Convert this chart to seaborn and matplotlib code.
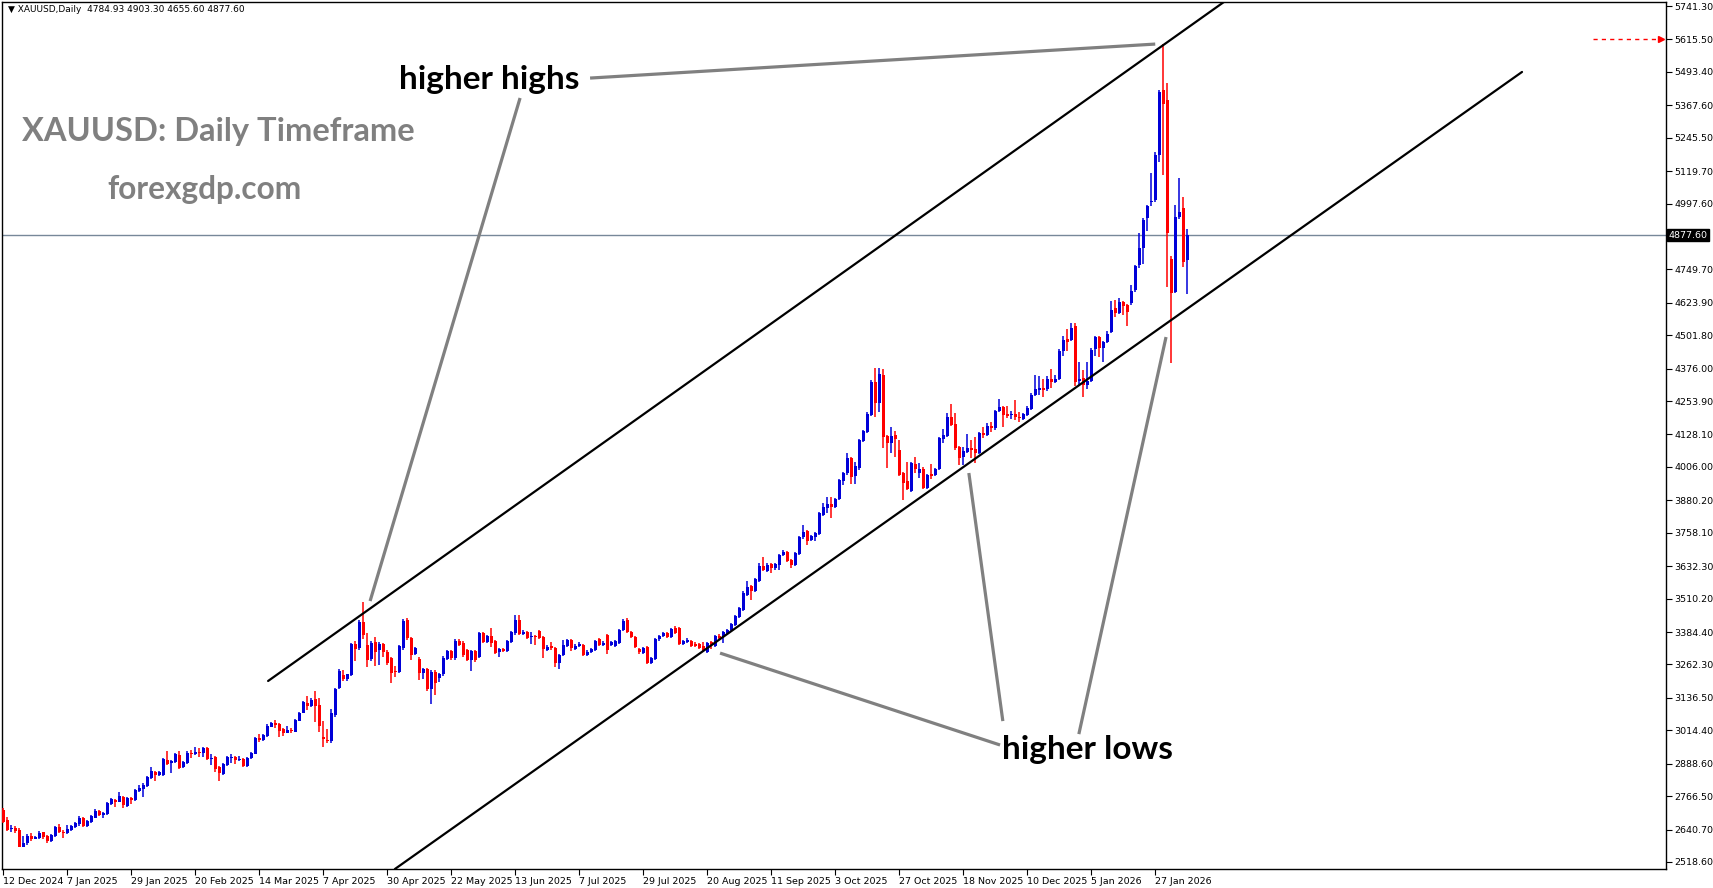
import numpy as np
import pandas as pd
import matplotlib
matplotlib.use("Agg")
import matplotlib.pyplot as plt
import matplotlib.transforms as mtransforms
import seaborn as sns

# XAUUSD daily candles, 12 Dec 2024 -> 6 Feb 2026
opens = [
    2714, 2677, 2644, 2648, 2639, 2576, 2589, 2616, 2606, 2610,
    2630, 2616, 2599, 2618, 2649, 2633, 2628, 2639, 2651, 2660,
    2685, 2655, 2670, 2685, 2710, 2695, 2699, 2737, 2752, 2746,
    2764, 2729, 2761, 2752, 2786, 2793, 2806, 2833, 2857, 2846,
    2846, 2902, 2890, 2895, 2921, 2875, 2890, 2930, 2925, 2933,
    2928, 2948, 2906, 2912, 2875, 2850, 2884, 2909, 2915, 2902,
    2906, 2881, 2909, 2925, 2984, 2978, 2994, 3028, 3041, 3038,
    3019, 3005, 3015, 3009, 3051, 3081, 3118, 3106, 3132, 3110,
    2990, 2978, 2975, 3072, 3172, 3222, 3206, 3222, 3339, 3323,
    3423, 3335, 3283, 3347, 3317, 3339, 3310, 3285, 3238, 3235,
    3323, 3430, 3361, 3302, 3282, 3229, 3244, 3169, 3235, 3210,
    3225, 3283, 3314, 3285, 3352, 3344, 3317, 3279, 3314, 3289,
    3379, 3346, 3369, 3351, 3310, 3320, 3314, 3348, 3379, 3430,
    3377, 3386, 3364, 3367, 3389, 3364, 3317, 3332, 3323, 3269,
    3298, 3333, 3354, 3319, 3332, 3335, 3298, 3308, 3317, 3357,
    3335, 3373, 3335, 3333, 3344, 3392, 3430, 3386, 3367, 3319,
    3307, 3329, 3269, 3283, 3357, 3369, 3379, 3367, 3398, 3398,
    3339, 3348, 3351, 3339, 3338, 3333, 3310, 3345, 3333, 3371,
    3367, 3382, 3392, 3411, 3442, 3467, 3524, 3558, 3539, 3578,
    3633, 3615, 3640, 3624, 3637, 3674, 3687, 3655, 3637, 3678,
    3741, 3765, 3731, 3743, 3753, 3825, 3852, 3866, 3854, 3884,
    3954, 3982, 4038, 3972, 4001, 4105, 4139, 4201, 4327, 4245,
    4352, 4122, 4095, 4126, 4070, 3982, 3953, 3915, 4016, 3984,
    3998, 3928, 3979, 3975, 3998, 4111, 4124, 4195, 4167, 4080,
    4045, 4063, 4078, 4073, 4060, 4135, 4126, 4161, 4151, 4216,
    4233, 4205, 4201, 4205, 4195, 4186, 4201, 4224, 4277, 4296,
    4304, 4298, 4337, 4327, 4337, 4442, 4486, 4484, 4537, 4331,
    4339, 4315, 4330, 4449, 4494, 4452, 4477, 4515, 4605, 4587,
    4628, 4616, 4622, 4672, 4766, 4829, 4942, 5004, 5011, 5180,
    5425, 5387, 4787, 4666, 4946, 4979, 4785,
]
highs = [
    2721, 2689, 2658, 2654, 2645, 2616, 2624, 2626, 2616, 2635,
    2633, 2620, 2624, 2654, 2661, 2639, 2658, 2658, 2670, 2692,
    2689, 2677, 2695, 2718, 2714, 2708, 2743, 2761, 2756, 2782,
    2768, 2762, 2764, 2793, 2808, 2815, 2843, 2875, 2861, 2861,
    2909, 2936, 2902, 2930, 2938, 2899, 2936, 2940, 2953, 2946,
    2950, 2950, 2924, 2917, 2880, 2892, 2919, 2925, 2919, 2917,
    2911, 2915, 2934, 2988, 3000, 3000, 3037, 3047, 3053, 3043,
    3023, 3031, 3022, 3057, 3084, 3126, 3143, 3135, 3162, 3135,
    3049, 3019, 3093, 3175, 3245, 3241, 3228, 3342, 3350, 3430,
    3497, 3379, 3350, 3364, 3348, 3342, 3317, 3290, 3256, 3336,
    3432, 3437, 3365, 3328, 3290, 3250, 3248, 3240, 3240, 3230,
    3293, 3318, 3318, 3357, 3357, 3350, 3320, 3318, 3318, 3383,
    3386, 3373, 3398, 3355, 3325, 3325, 3355, 3388, 3447, 3450,
    3392, 3390, 3386, 3372, 3393, 3368, 3334, 3346, 3327, 3302,
    3354, 3358, 3358, 3338, 3347, 3340, 3315, 3325, 3356, 3362,
    3349, 3378, 3352, 3353, 3396, 3432, 3437, 3390, 3371, 3325,
    3327, 3333, 3290, 3362, 3374, 3384, 3384, 3398, 3408, 3402,
    3356, 3360, 3356, 3345, 3342, 3348, 3348, 3350, 3374, 3376,
    3390, 3396, 3419, 3450, 3478, 3537, 3576, 3562, 3588, 3643,
    3668, 3643, 3645, 3645, 3678, 3693, 3691, 3659, 3685, 3747,
    3787, 3769, 3750, 3762, 3838, 3871, 3891, 3894, 3888, 3961,
    3988, 4057, 4042, 4026, 4111, 4146, 4214, 4333, 4380, 4377,
    4375, 4126, 4157, 4141, 4107, 3986, 4026, 4023, 4042, 4019,
    4007, 3979, 4017, 4002, 4118, 4149, 4210, 4243, 4210, 4084,
    4082, 4130, 4107, 4120, 4136, 4157, 4170, 4176, 4220, 4262,
    4237, 4235, 4216, 4258, 4214, 4209, 4235, 4285, 4352, 4348,
    4336, 4350, 4373, 4352, 4449, 4499, 4524, 4547, 4549, 4402,
    4371, 4402, 4452, 4498, 4498, 4481, 4518, 4632, 4634, 4643,
    4632, 4620, 4691, 4766, 4888, 4942, 4992, 5111, 5193, 5425,
    5598, 5453, 4800, 4992, 5095, 5023, 4903,
]
lows = [
    2664, 2636, 2633, 2626, 2576, 2576, 2582, 2599, 2604, 2605,
    2604, 2589, 2595, 2614, 2629, 2608, 2624, 2636, 2648, 2655,
    2651, 2651, 2666, 2683, 2693, 2683, 2697, 2734, 2727, 2743,
    2723, 2727, 2737, 2749, 2783, 2764, 2802, 2830, 2825, 2842,
    2843, 2884, 2855, 2892, 2867, 2871, 2886, 2909, 2921, 2912,
    2912, 2902, 2884, 2858, 2825, 2846, 2880, 2890, 2886, 2899,
    2877, 2875, 2906, 2924, 2971, 2975, 2990, 3025, 3022, 2990,
    2993, 3003, 3005, 3007, 3048, 3078, 3091, 3103, 3047, 3009,
    2950, 2968, 2965, 3065, 3168, 3200, 3200, 3218, 3276, 3318,
    3358, 3254, 3275, 3256, 3260, 3292, 3260, 3194, 3216, 3230,
    3318, 3355, 3279, 3296, 3204, 3207, 3163, 3113, 3147, 3197,
    3220, 3280, 3280, 3280, 3330, 3292, 3275, 3239, 3273, 3285,
    3343, 3342, 3329, 3302, 3289, 3308, 3310, 3344, 3375, 3372,
    3372, 3358, 3339, 3335, 3358, 3288, 3313, 3317, 3251, 3244,
    3294, 3329, 3314, 3315, 3328, 3294, 3294, 3304, 3313, 3331,
    3331, 3303, 3331, 3329, 3340, 3388, 3382, 3360, 3325, 3300,
    3302, 3263, 3265, 3279, 3352, 3364, 3362, 3362, 3378, 3334,
    3335, 3344, 3328, 3328, 3320, 3313, 3306, 3319, 3328, 3358,
    3344, 3378, 3388, 3407, 3438, 3462, 3519, 3505, 3534, 3573,
    3613, 3610, 3608, 3618, 3618, 3670, 3648, 3624, 3632, 3673,
    3736, 3712, 3726, 3728, 3748, 3820, 3834, 3815, 3850, 3880,
    3938, 3977, 3940, 3940, 3996, 4100, 4134, 4196, 4195, 4214,
    4078, 4001, 4060, 4042, 3970, 3881, 3918, 3910, 3982, 3963,
    3923, 3923, 3959, 3970, 3993, 4095, 4119, 4160, 4071, 4013,
    4013, 4058, 4038, 4019, 4055, 4114, 4121, 4136, 4146, 4211,
    4157, 4189, 4186, 4183, 4176, 4181, 4196, 4219, 4272, 4277,
    4268, 4293, 4304, 4322, 4332, 4425, 4444, 4479, 4310, 4314,
    4270, 4300, 4325, 4424, 4421, 4402, 4472, 4510, 4569, 4582,
    4578, 4536, 4617, 4666, 4754, 4769, 4895, 4988, 5005, 5155,
    5105, 4685, 4398, 4660, 4940, 4757, 4656,
]
closes = [
    2670, 2639, 2646, 2636, 2576, 2591, 2616, 2606, 2614, 2629,
    2614, 2599, 2619, 2651, 2631, 2628, 2643, 2654, 2666, 2683,
    2655, 2673, 2692, 2710, 2695, 2704, 2739, 2754, 2746, 2768,
    2733, 2758, 2752, 2790, 2796, 2808, 2840, 2861, 2846, 2857,
    2905, 2887, 2900, 2925, 2871, 2895, 2928, 2925, 2933, 2930,
    2948, 2906, 2909, 2868, 2852, 2889, 2915, 2915, 2902, 2906,
    2881, 2911, 2930, 2984, 2978, 2997, 3032, 3043, 3033, 3013,
    3005, 3015, 3012, 3053, 3081, 3122, 3107, 3128, 3106, 3030,
    2980, 2974, 3081, 3170, 3238, 3206, 3225, 3339, 3320, 3423,
    3373, 3279, 3344, 3310, 3339, 3310, 3266, 3231, 3235, 3332,
    3427, 3361, 3298, 3323, 3229, 3244, 3169, 3235, 3194, 3225,
    3288, 3314, 3285, 3352, 3336, 3298, 3279, 3314, 3279, 3379,
    3348, 3369, 3342, 3307, 3320, 3314, 3351, 3383, 3430, 3377,
    3386, 3363, 3367, 3364, 3363, 3319, 3329, 3323, 3269, 3298,
    3335, 3354, 3323, 3333, 3339, 3298, 3310, 3320, 3352, 3335,
    3344, 3317, 3348, 3349, 3392, 3427, 3386, 3364, 3329, 3310,
    3323, 3269, 3285, 3357, 3369, 3379, 3367, 3394, 3382, 3338,
    3351, 3354, 3332, 3332, 3325, 3317, 3344, 3335, 3369, 3363,
    3386, 3392, 3415, 3446, 3474, 3532, 3553, 3540, 3584, 3633,
    3618, 3637, 3624, 3640, 3674, 3684, 3652, 3637, 3681, 3743,
    3760, 3728, 3746, 3758, 3834, 3856, 3865, 3854, 3884, 3957,
    3984, 4041, 3969, 4009, 4107, 4142, 4205, 4327, 4248, 4356,
    4120, 4095, 4122, 4110, 3975, 3947, 3923, 4019, 3997, 3997,
    3928, 3975, 3972, 3998, 4114, 4126, 4195, 4164, 4076, 4038,
    4066, 4078, 4070, 4060, 4132, 4126, 4160, 4154, 4216, 4230,
    4201, 4198, 4205, 4195, 4189, 4205, 4226, 4277, 4299, 4304,
    4296, 4337, 4327, 4337, 4444, 4484, 4478, 4528, 4327, 4336,
    4314, 4330, 4446, 4494, 4452, 4477, 4506, 4597, 4584, 4628,
    4613, 4590, 4668, 4764, 4829, 4936, 4988, 5006, 5180, 5419,
    5372, 4885, 4659, 4946, 4965, 4776, 4878,
]

date_labels = ["12 Dec 2024", "7 Jan 2025", "29 Jan 2025", "20 Feb 2025", "14 Mar 2025",
               "7 Apr 2025", "30 Apr 2025", "22 May 2025", "13 Jun 2025", "7 Jul 2025",
               "29 Jul 2025", "20 Aug 2025", "11 Sep 2025", "3 Oct 2025", "27 Oct 2025",
               "18 Nov 2025", "10 Dec 2025", "5 Jan 2026", "27 Jan 2026"]
BARS_PER_LABEL = 16
price_ticks = [5741.30, 5615.50, 5493.40, 5367.60, 5245.50, 5119.70, 4997.60, 4749.70,
               4623.90, 4501.80, 4376.00, 4253.90, 4128.10, 4006.00, 3880.20, 3758.10,
               3632.30, 3510.20, 3384.40, 3262.30, 3136.50, 3014.40, 2888.60, 2766.50,
               2640.70, 2518.60]
last_price = 4877.60
alert_price = 5615.50
header = "\u25BC XAUUSD,Daily  4784.93 4903.30 4655.60 4877.60"

# trend lines drawn on the chart: (bar, price) pairs
channel_upper = [(66.2, 3200), (305.5, 5760)]
channel_lower = [(97.9, 2492), (379.7, 5493)]
hh_pointers = [[(146.7, 5470), (288.0, 5598)], [(129.2, 5395), (91.7, 3501)]]
hl_pointers = [[(249.2, 2959), (179.2, 3305)], [(249.9, 3049), (241.4, 3983)],
               [(268.9, 3000), (290.7, 4495)]]

df = pd.DataFrame({"open": opens, "high": highs, "low": lows, "close": closes})
df["bar"] = np.arange(len(df))
df["up"] = df["close"] >= df["open"]

sns.set_style("white")
plt.rcParams["font.family"] = ["DejaVu Sans"]

W, H = 1713, 888
fig = plt.figure(figsize=(W / 100, H / 100), dpi=100)
fig.patch.set_facecolor("white")
ax = fig.add_axes([2 / W, 1 - 869 / H, 1664 / W, 867 / H])

BLUE = "#0000D8"
RED = "#FF0000"
colors = np.where(df["up"], BLUE, RED)

body_lo = np.minimum(df["open"], df["close"])
body_hi = np.maximum(df["open"], df["close"])
ax.vlines(df["bar"], np.minimum(df["low"], body_lo), np.maximum(df["high"], body_hi),
          colors=colors, linewidth=1.1, zorder=3)
ax.bar(df["bar"], np.maximum(body_hi - body_lo, 3.5), bottom=body_lo, width=0.72,
       color=colors, linewidth=0, zorder=4)

# current price line
ax.axhline(last_price, color="#778899", linewidth=1.0, zorder=1)

# channel
for seg in (channel_upper, channel_lower):
    xs, ys = zip(*seg)
    ax.plot(xs, ys, color="black", linewidth=1.6, zorder=5)

for seg in hh_pointers + hl_pointers:
    xs, ys = zip(*seg)
    ax.plot(xs, ys, color="#808080", linewidth=2.3, zorder=5, solid_capstyle="butt")

# alert level (red dashed with arrow at the scale)
trans = mtransforms.blended_transform_factory(ax.transAxes, ax.transData)
ax.plot([0.956, 0.997], [alert_price, alert_price], color=RED, linewidth=1.0,
        linestyle=(0, (3, 3)), transform=trans, zorder=6)
ax.plot([0.997], [alert_price], marker=">", color=RED, markersize=4, transform=trans, zorder=6)

ax.set_xlim(-0.33, 415.7)
ax.set_ylim(2492.1, 5756.4)

ax.yaxis.tick_right()
ax.set_yticks(price_ticks)
ax.set_yticklabels([f"{v:.2f}" for v in price_ticks])
ax.set_xticks(np.arange(len(date_labels)) * BARS_PER_LABEL)
ax.set_xticklabels(date_labels)
for lab in ax.get_xticklabels():
    lab.set_horizontalalignment("left")
ax.tick_params(axis="y", right=True, left=False, length=4, width=0.8, pad=2,
               labelsize=6.8, colors="black", direction="out")
ax.tick_params(axis="x", bottom=True, length=4, width=0.8, pad=1.5,
               labelsize=6.8, colors="black", direction="out")
for sp in ax.spines.values():
    sp.set_visible(True)
    sp.set_color("black")
    sp.set_linewidth(1.0)
ax.grid(False)

# last price tag on the scale
ax.text(1.0015, last_price, f"{last_price:.2f}", transform=trans, ha="left", va="center",
        fontsize=6.8, color="white",
        bbox=dict(boxstyle="square,pad=0.15", facecolor="black", edgecolor="black"))

# texts
big = ["Lato", "DejaVu Sans"]
fig.text(8 / W, 1 - 9 / H, header, fontsize=6.5, color="black", ha="left", va="center")
fig.text(489 / W, 1 - 79 / H, "higher highs", fontsize=24, fontweight="bold",
         color="black", ha="center", va="center", family=big)
fig.text(218 / W, 1 - 132 / H, "XAUUSD: Daily Timeframe", fontsize=23.5, fontweight="bold",
         color="#808080", ha="center", va="center", family=big)
fig.text(205 / W, 1 - 189 / H, "forexgdp.com", fontsize=22.8, fontweight="bold",
         color="#808080", ha="center", va="center", family=big)
fig.text(1088 / W, 1 - 749 / H, "higher lows", fontsize=24, fontweight="bold",
         color="black", ha="center", va="center", family=big)

fig.savefig("out.png", dpi=100, facecolor="white")
